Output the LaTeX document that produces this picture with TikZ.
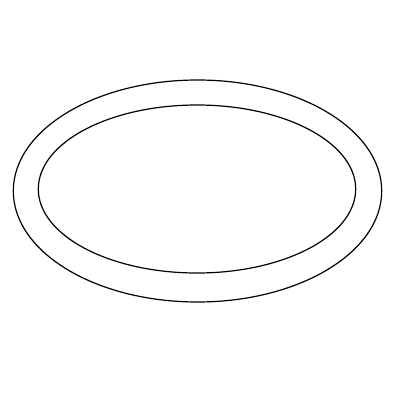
\documentclass[tikz,border=0pt]{standalone}
\begin{document}
\begin{tikzpicture}[x=1pt,y=-1pt,ring/.style={draw=black,line width=1.2pt}]
\useasboundingbox[fill=white] (0,0) rectangle (400,400);
\draw[ring] (197.5,191) ellipse [x radius=184.2, y radius=111];
\draw[ring] (197,189) ellipse [x radius=158.7, y radius=84];
\end{tikzpicture}
\end{document}
